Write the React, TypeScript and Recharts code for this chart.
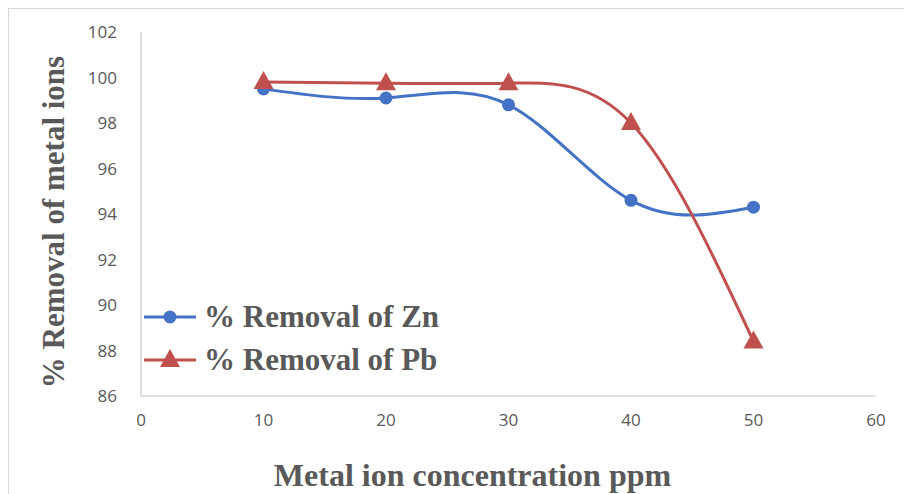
import React from 'react';
import { LineChart, Line, XAxis, YAxis } from 'recharts';

const concentrations = [10, 20, 30, 40, 50];
const znRemoval = [99.5, 99.1, 98.8, 94.6, 94.3];
const pbRemoval = [99.8, 99.75, 99.75, 98.0, 88.4];
const xTicks = [0, 10, 20, 30, 40, 50, 60];
const yTicks = [86, 88, 90, 92, 94, 96, 98, 100, 102];

const data = concentrations.map((c, i) => ({ c, zn: znRemoval[i], pb: pbRemoval[i] }));

const ZN = '#4472C4';
const PB = '#C0504D';

const Tri = (props: any) => {
  const { cx, cy, fill } = props;
  if (cx == null || cy == null) return null;
  return <path d={`M${cx},${cy - 11} L${cx + 10},${cy + 7} L${cx - 10},${cy + 7} Z`} fill={fill} />;
};

const LegendBox = () => (
  <div style={{ position: 'absolute', left: 142, top: 295, fontFamily: '"Liberation Serif", serif', fontWeight: 'bold', fontSize: 31, color: '#595959' }}>
    {[
      { label: '% Removal of Zn', color: ZN, tri: false },
      { label: '% Removal of Pb', color: PB, tri: true },
    ].map((it) => (
      <div key={it.label} style={{ display: 'flex', alignItems: 'center', height: 43, whiteSpace: 'nowrap' }}>
        <svg width={56} height={24}>
          <line x1={2} y1={12} x2={54} y2={12} stroke={it.color} strokeWidth={3} />
          {it.tri ? (
            <path d="M28,1 L38,19 L18,19 Z" fill={it.color} />
          ) : (
            <circle cx={28} cy={12} r={6.5} fill={it.color} />
          )}
        </svg>
        <span style={{ marginLeft: 6 }}>{it.label}</span>
      </div>
    ))}
  </div>
);

export default function App() {
  return (
    <div style={{ position: 'absolute', left: 0, top: 0, width: 904, height: 494, background: '#fff', overflow: 'hidden' }}>
      <div style={{ position: 'absolute', left: 8, top: 8, width: 904, height: 494, border: '1px solid #d9d9d9' }} />
      <LineChart width={904} height={494} data={data} margin={{ left: 81, top: 32, right: 28, bottom: 68 }} style={{ position: 'absolute', left: 0, top: 0 }}>
        <XAxis
          dataKey="c"
          type="number"
          domain={[0, 60]}
          ticks={xTicks}
          height={30}
          stroke="#bfbfbf"
          tickLine={false}
          tick={{ fill: '#595959', fontSize: 17, fontFamily: '"Open Sans", sans-serif' }}
          tickMargin={12}
          label={{ value: 'Metal ion concentration ppm', position: 'insideBottom', offset: -60, dx: -36, fill: '#595959', fontSize: 32, fontWeight: 'bold', fontFamily: '"Liberation Serif", serif' }}
        />
        <YAxis
          type="number"
          domain={[86, 102]}
          ticks={yTicks}
          width={60}
          stroke="#bfbfbf"
          tickLine={false}
          tick={{ fill: '#595959', fontSize: 17, fontFamily: '"Open Sans", sans-serif' }}
          tickMargin={18}
          label={{ value: '% Removal of metal ions', angle: -90, position: 'center', dx: -58, dy: 8, fill: '#595959', fontSize: 31, fontWeight: 'bold', fontFamily: '"Liberation Serif", serif' }}
        />
        <Line dataKey="zn" type="natural" stroke={ZN} strokeWidth={3} isAnimationActive={false}
          dot={{ r: 6.5, fill: ZN, stroke: ZN, strokeWidth: 0 }} />
        <Line dataKey="pb" type="natural" stroke={PB} strokeWidth={3} isAnimationActive={false}
          dot={(p: any) => <Tri key={p.index} {...p} fill={PB} />} />
      </LineChart>
      <LegendBox />
    </div>
  );
}
